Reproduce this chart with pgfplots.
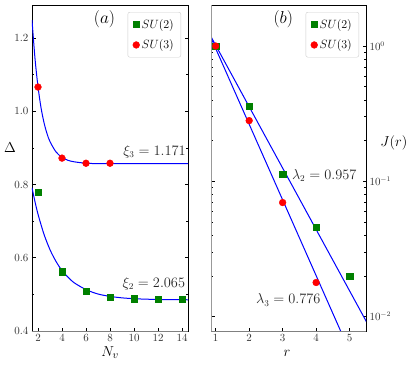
\documentclass[border=0pt]{standalone}
\usepackage{pgfplots}
\pgfplotsset{compat=1.18}
\definecolor{mplgreen}{RGB}{0,128,0}
\definecolor{mplred}{RGB}{255,0,0}
\definecolor{mplblue}{RGB}{0,0,255}
\newcommand{\fs}[1]{\fontsize{#1}{#1}\selectfont}
\pgfplotsset{
  common/.style={
    scale only axis, height=326pt,
    tick align=inside,
    axis line style={line width=0.8pt},
    every tick/.style={black, line width=0.6pt},
    major tick length=3.5pt, minor tick length=2pt,
    tick label style={font=\fs{10.5}, text=black!80},
    label style={font=\fs{15}},
    legend style={at={(1,1)}, anchor=north east, xshift=-7pt, yshift=-7pt,
      draw=black!20, rounded corners=2pt, font=\fs{11.5},
      row sep=6pt, inner xsep=5pt, inner ysep=5pt},
    legend cell align=left,
  },
  sq/.style={only marks, mark=square*, mark size=3.2pt, mark options={fill=mplgreen, draw=mplgreen}},
  ci/.style={only marks, mark=*, mark size=3.4pt, mark options={fill=mplred, draw=mplred}},
}
\begin{document}
\begin{tikzpicture}
\useasboundingbox (-32pt,-37pt) rectangle (383pt,331pt);
% ---------------- (a) ----------------
\begin{axis}[common, at={(0pt,0pt)}, anchor=south west, width=156pt,
  xmin=1.5, xmax=14.5, ymin=0.4, ymax=1.29,
  xtick={2,4,6,8,10,12,14}, ytick={0.4,0.6,0.8,1.0,1.2},
  minor ytick={0.5,0.7,0.9,1.1},
  xtick pos=bottom, ytick pos=both,
  yticklabel style={/pgf/number format/.cd, fixed, fixed zerofill, precision=1},
  xlabel={$N_v$}, ylabel={$\Delta$},
  xlabel style={at={(axis description cs:0.5,-0.066)}, anchor=center},
  ylabel style={at={(axis description cs:-0.141,0.564)}, rotate=-90, anchor=center},
]
\addplot[mplblue, line width=1pt, smooth, forget plot] coordinates {
 (1.5,1.249) (1.75,1.144) (2,1.067) (2.25,1.010) (2.5,0.969) (2.75,0.939)
 (3,0.917) (3.5,0.889) (4,0.874) (4.5,0.866) (5,0.862) (6,0.858) (7,0.857)
 (8,0.857) (10,0.857) (12,0.857) (14.5,0.857)};
\addplot[mplblue, line width=1pt, smooth, forget plot] coordinates {
 (1.5,0.791) (1.75,0.753) (2,0.719) (2.5,0.664) (3,0.622) (3.5,0.590)
 (4,0.565) (4.5,0.547) (5,0.532) (6,0.513) (7,0.501) (8,0.4945) (9,0.4905)
 (10,0.4882) (11,0.4869) (12,0.4861) (13,0.4857) (14.5,0.4853)};
\addplot[sq] coordinates {(2,0.779) (4,0.562) (6,0.509) (8,0.493) (10,0.488) (12,0.4865) (14,0.4865)};
\addlegendentry{$SU(2)$}
\addplot[ci] coordinates {(2,1.066) (4,0.872) (6,0.858) (8,0.858)};
\addlegendentry{$SU(3)$}
\node[font=\fs{13.5}, text=black!85, anchor=east] at (axis cs:14.6,0.889) {$\xi_3 = 1.171$};
\node[font=\fs{13.5}, text=black!85, anchor=east] at (axis cs:14.55,0.528) {$\xi_2 = 2.065$};
\node[font=\fs{19}] at (axis cs:7.54,1.252) {$(a)$};
\draw[black!50, line width=1pt] (rel axis cs:0,0) -- (rel axis cs:1,0);
\end{axis}
% ---------------- (b) ----------------
\begin{axis}[common, at={(179pt,0pt)}, anchor=south west, width=155pt,
  ymode=log, xmin=0.86, xmax=5.49, ymin=0.00783, ymax=2.01,
  xtick={1,2,3,4,5}, ytick={0.01,0.1,1},
  xtick pos=bottom, ytick pos=both, yticklabel pos=right,
  xlabel={$r$}, ylabel={$J(r)$},
  xlabel style={at={(axis description cs:0.49,-0.068)}, anchor=center},
  ylabel style={at={(axis description cs:1.18,0.577)}, rotate=-90, anchor=center},
]
\addplot[mplblue, line width=1pt, forget plot] coordinates {(0.8,1.248) (5.6,0.00828)};
\addplot[mplblue, line width=1pt, forget plot] coordinates {(0.8,1.240) (5.6,0.00256)};
\addplot[sq] coordinates {(1,1.0) (2,0.358) (3,0.1125) (4,0.0456) (5,0.0199)};
\addlegendentry{$SU(2)$}
\addplot[ci] coordinates {(1,1.0) (2,0.281) (3,0.0697) (4,0.01787)};
\addlegendentry{$SU(3)$}
\node[font=\fs{13.5}, text=black!85, anchor=east] at (axis cs:5.31,0.111) {$\lambda_2 = 0.957$};
\node[font=\fs{13.5}, text=black!85] at (axis cs:3.17,0.01327) {$\lambda_3 = 0.776$};
\node[font=\fs{19}] at (axis cs:3.02,1.58) {$(b)$};
\draw[black!50, line width=1pt] (rel axis cs:0,0) -- (rel axis cs:1,0);
\draw[black!40, line width=2pt] (rel axis cs:0,0) -- (rel axis cs:0,1);
\end{axis}
\end{tikzpicture}
\end{document}
